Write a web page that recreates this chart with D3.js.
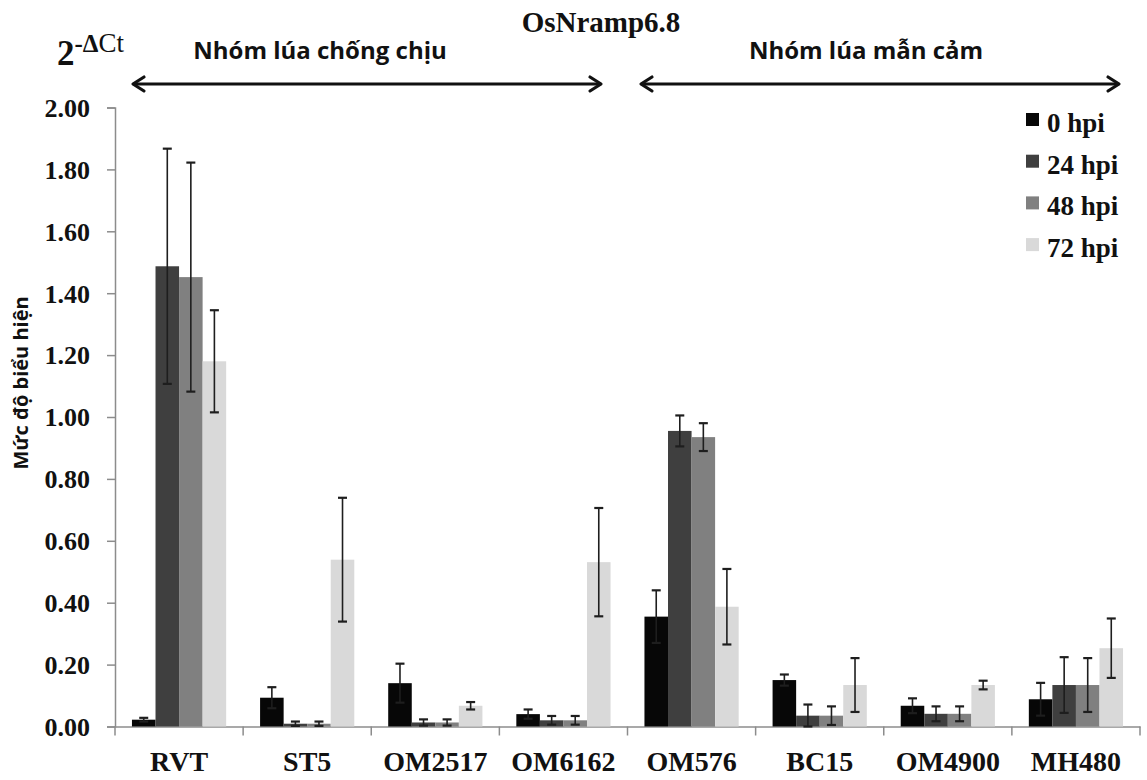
<!DOCTYPE html>
<html>
<head>
<meta charset="utf-8">
<script src="https://cdn.jsdelivr.net/npm/d3@7"></script>
<style>
    body { margin: 0; background: #fff; }
    svg { display: block; }
</style>
</head>
<body>
<svg id="chart" width="1147" height="780"></svg>
<script>
const categories = ["RVT", "ST5", "OM2517", "OM6162", "OM576", "BC15", "OM4900", "MH480"];
const seriesNames = ["0 hpi", "24 hpi", "48 hpi", "72 hpi"];
const yTicks = [0, 0.2, 0.4, 0.6, 0.8, 1.0, 1.2, 1.4, 1.6, 1.8, 2.0];

const hpi0 = [0.022, 0.093, 0.140, 0.040, 0.355, 0.150, 0.067, 0.088];
const hpi0Err = [0.006, 0.034, 0.063, 0.015, 0.085, 0.018, 0.024, 0.053];
const hpi24 = [1.487, 0.009, 0.013, 0.020, 0.955, 0.035, 0.041, 0.134];
const hpi24Err = [0.380, 0.007, 0.010, 0.014, 0.050, 0.036, 0.024, 0.090];
const hpi48 = [1.452, 0.009, 0.013, 0.020, 0.935, 0.035, 0.041, 0.134];
const hpi48Err = [0.370, 0.007, 0.010, 0.014, 0.045, 0.030, 0.024, 0.087];
const hpi72 = [1.180, 0.539, 0.067, 0.531, 0.387, 0.134, 0.134, 0.253];
const hpi72Err = [0.165, 0.200, 0.012, 0.175, 0.122, 0.087, 0.014, 0.096];

const colors = ["#070707", "#3f3f3f", "#808080", "#d9d9d9"];

const serif = "'Liberation Serif', 'Times New Roman', serif";
const sans = "'Open Sans', 'Noto Sans', sans-serif";

const svg = d3.select("#chart");

// build rows for bars from the arrays
const values = [hpi0, hpi24, hpi48, hpi72];
const errors = [hpi0Err, hpi24Err, hpi48Err, hpi72Err];
const rows = [];
categories.forEach((cat, i) => {
    seriesNames.forEach((s, j) => {
        rows.push({cat: cat, series: s, idx: j, value: values[j][i], err: errors[j][i]});
    });
});

const x0 = d3.scaleBand()
    .domain(categories)
    .range([115, 1140])
    .padding(0);

const x1 = d3.scaleBand()
    .domain(seriesNames)
    .range([0, x0.bandwidth()])
    .paddingInner(0)
    .paddingOuter(0.72);

const y = d3.scaleLinear()
    .domain([0, 2])
    .range([726.5, 107.5]);

// y axis
const yAxis = svg.append("g")
    .attr("transform", "translate(115,0)")
    .call(d3.axisLeft(y).tickValues(yTicks).tickFormat(d3.format(".2f")).tickSizeOuter(0).tickSize(8).tickPadding(17));
yAxis.select(".domain").attr("stroke", "#8c8c8c").attr("stroke-width", 1.5);
yAxis.selectAll(".tick line").attr("stroke", "#8c8c8c").attr("stroke-width", 1.5);
yAxis.selectAll(".tick text")
    .attr("fill", "#111")
    .style("font-family", serif)
    .style("font-weight", "bold")
    .style("font-size", "26px")
    .attr("dy", "0.34em");

// x axis, ticks at category edges
const xAxis = svg.append("g")
    .attr("transform", `translate(0,${y(0)})`)
    .call(d3.axisBottom(x0).tickSize(0).tickSizeOuter(0).tickPadding(25));
xAxis.select(".domain").attr("stroke", "#8c8c8c").attr("stroke-width", 1.5);
xAxis.selectAll(".tick text")
    .attr("fill", "#111")
    .style("font-family", serif)
    .style("font-weight", "bold")
    .style("font-size", "28px");

const edges = categories.map(c => x0(c)).concat([x0.range()[1]]);
xAxis.selectAll(".edge")
    .data(edges)
    .join("line")
    .attr("class", "edge")
    .attr("x1", d => d).attr("x2", d => d)
    .attr("y1", 0).attr("y2", 9)
    .attr("stroke", "#8c8c8c")
    .attr("stroke-width", 1.5);

// bars
svg.append("g")
    .selectAll("rect")
    .data(rows)
    .join("rect")
    .attr("x", d => x0(d.cat) + x1(d.series))
    .attr("y", d => y(d.value))
    .attr("width", x1.bandwidth())
    .attr("height", d => y(0) - y(d.value))
    .attr("fill", d => colors[d.idx]);

// error bars
const errG = svg.append("g").attr("stroke", "#1e1e1e");
const cx = d => x0(d.cat) + x1(d.series) + x1.bandwidth() / 2;
errG.selectAll(".stem")
    .data(rows)
    .join("line")
    .attr("class", "stem")
    .attr("x1", cx).attr("x2", cx)
    .attr("y1", d => y(d.value + d.err))
    .attr("y2", d => y(Math.max(0, d.value - d.err)))
    .attr("stroke-width", 1.6);
errG.selectAll(".capTop")
    .data(rows)
    .join("line")
    .attr("class", "capTop")
    .attr("x1", d => cx(d) - 4.5).attr("x2", d => cx(d) + 4.5)
    .attr("y1", d => y(d.value + d.err))
    .attr("y2", d => y(d.value + d.err))
    .attr("stroke-width", 2.2);
errG.selectAll(".capBot")
    .data(rows)
    .join("line")
    .attr("class", "capBot")
    .attr("x1", d => cx(d) - 4.5).attr("x2", d => cx(d) + 4.5)
    .attr("y1", d => y(Math.max(0, d.value - d.err)))
    .attr("y2", d => y(Math.max(0, d.value - d.err)))
    .attr("stroke-width", 2.2);

// legend
const legend = svg.append("g").attr("transform", "translate(1026,113)");
const legendRow = legend.selectAll("g")
    .data(seriesNames)
    .join("g")
    .attr("transform", (d, i) => `translate(0,${i * 41.7})`);
legendRow.append("rect")
    .attr("width", 13)
    .attr("height", 13)
    .attr("fill", (d, i) => colors[i]);
legendRow.append("text")
    .attr("x", 21)
    .attr("y", 19)
    .text(d => d)
    .attr("fill", "#111")
    .style("font-family", serif)
    .style("font-weight", "bold")
    .style("font-size", "27px");

// title
svg.append("text")
    .attr("x", 601)
    .attr("y", 32)
    .attr("text-anchor", "middle")
    .text("OsNramp6.8")
    .attr("fill", "#111")
    .style("font-family", serif)
    .style("font-weight", "bold")
    .style("font-size", "29px");

// 2^-ΔCt label
const unit = svg.append("text")
    .attr("x", 57)
    .attr("y", 65)
    .attr("fill", "#111")
    .style("font-family", serif);
unit.append("tspan").text("2").style("font-weight", "bold").style("font-size", "35px");
unit.append("tspan").attr("dy", -13).text("-Δ").style("font-weight", "bold").style("font-size", "25px");
unit.append("tspan").text("Ct").style("font-size", "27px");

// y title
svg.append("text")
    .attr("transform", "translate(28,383) rotate(-90)")
    .attr("text-anchor", "middle")
    .text("Mức độ biểu hiện")
    .attr("fill", "#111")
    .style("font-family", sans)
    .style("font-weight", "bold")
    .style("font-size", "20px");

// group arrows
const groups = [
    {label: "Nhóm lúa chống chịu", x1: 133, x2: 601, tx: 320},
    {label: "Nhóm lúa mẫn cảm", x1: 641, x2: 1119, tx: 866}
];
const arrowY = 84;
const arrows = svg.append("g")
    .attr("stroke", "#111")
    .attr("stroke-width", 3.2)
    .attr("fill", "none")
    .attr("stroke-linecap", "round")
    .attr("stroke-linejoin", "round");
groups.forEach(g => {
    arrows.append("line")
        .attr("x1", g.x1 + 1).attr("x2", g.x2 - 1)
        .attr("y1", arrowY).attr("y2", arrowY);
    arrows.append("path").attr("d", `M${g.x1 + 11},${arrowY - 7} L${g.x1},${arrowY} L${g.x1 + 11},${arrowY + 7}`);
    arrows.append("path").attr("d", `M${g.x2 - 11},${arrowY - 7} L${g.x2},${arrowY} L${g.x2 - 11},${arrowY + 7}`);
    svg.append("text")
        .attr("x", g.tx)
        .attr("y", 59)
        .attr("text-anchor", "middle")
        .text(g.label)
        .attr("fill", "#111")
        .style("font-family", sans)
        .style("font-weight", "bold")
        .style("font-size", "24px");
});
</script>
</body>
</html>
